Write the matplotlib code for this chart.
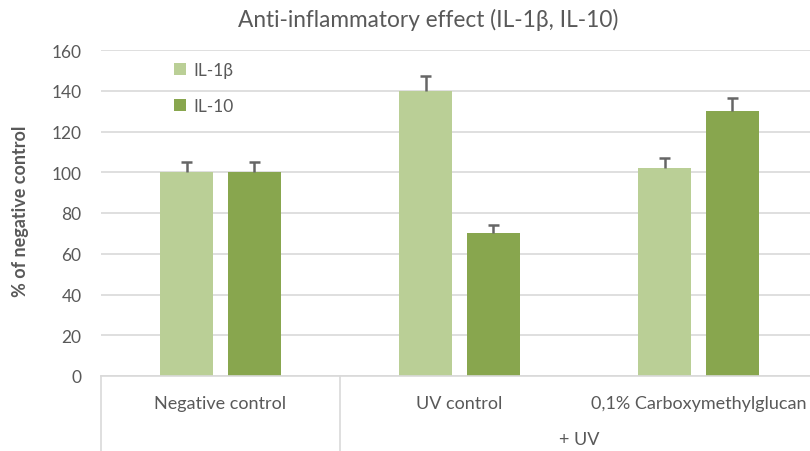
import numpy as np
import matplotlib
matplotlib.use("Agg")
from matplotlib import pyplot as plt

plt.rcParams['font.family'] = ['Lato', 'DejaVu Sans']

categories = ['Negative control', 'UV control', '0,1% Carboxymethylglucan']
series = ['IL-1\u03b2', 'IL-10']
il1b = [100, 140, 102]
il1b_err = [5, 7, 5]
il10 = [100, 70, 130]
il10_err = [5, 4, 6.5]
group_label = '+ UV'
yticks = [0, 20, 40, 60, 80, 100, 120, 140, 160]

light = '#bacf96'
dark = '#88a64e'
txt = '#595959'
grid = '#d9d9d9'
ecol = '#666666'

fig = plt.figure(figsize=(8.1, 4.52), dpi=100)
ax = fig.add_axes([101/810, 75/452, 717/810, 326/452])

x = np.arange(len(categories))
w = 0.222
off = 0.142
ax.bar(x - off, il1b, w, color=light, label=series[0], zorder=2)
ax.bar(x + off, il10, w, color=dark, label=series[1], zorder=2)

# excel style: only plus error bars, cap on top only
for xs, vals, errs in [(x - off, il1b, il1b_err), (x + off, il10, il10_err)]:
    tops = np.array(vals) + np.array(errs)
    ax.vlines(xs, vals, tops, color=ecol, linewidth=1.8, zorder=3)
    ax.hlines(tops, xs - 0.022, xs + 0.022, color=ecol, linewidth=1.8, zorder=3)

ax.set_xlim(-0.5, 2.5)
ax.set_ylim(0, 160)
ax.set_yticks(yticks)
ax.yaxis.grid(True, color=grid, linewidth=1.2, zorder=0)
ax.set_axisbelow(True)
for s in ['top', 'right', 'left']:
    ax.spines[s].set_visible(False)
ax.spines['bottom'].set_color(grid)
ax.spines['bottom'].set_linewidth(1.2)
ax.tick_params(axis='y', length=0, pad=14, labelcolor=txt, labelsize=12.5)
ax.tick_params(axis='x', length=0, labelbottom=False)

# category labels, two levels
for i, c in enumerate(categories):
    ax.annotate(c, xy=(i, 0), xycoords=('data', 'axes fraction'),
                xytext=(0, -19.5), textcoords='offset points',
                ha='center', va='center', color=txt, fontsize=13)
ax.annotate(group_label, xy=(1.5, 0), xycoords=('data', 'axes fraction'),
            xytext=(0, -45.5), textcoords='offset points',
            ha='center', va='center', color=txt, fontsize=13)
for xb in [-0.5, 0.5]:
    ax.plot([xb, xb], [0, -0.24], color=grid, linewidth=1.2,
            transform=ax.get_xaxis_transform(), clip_on=False)

fig.text(21/810, 1 - 211/452, '% of negative control', rotation=90,
         ha='center', va='center', color=txt, fontsize=13, fontweight='bold')

leg = ax.legend(loc='upper left', bbox_to_anchor=(0.08, 1.012), frameon=False,
                labelspacing=1.16, handlelength=0.7, handleheight=0.7,
                handletextpad=0.4, fontsize=12.5, labelcolor=txt)

fig.text(428/810, 1 - 20/452, 'Anti-inflammatory effect (IL-1\u03b2, IL-10)',
         ha='center', va='center', fontsize=16.3, color=txt)

fig.savefig('out.png', dpi=100)
